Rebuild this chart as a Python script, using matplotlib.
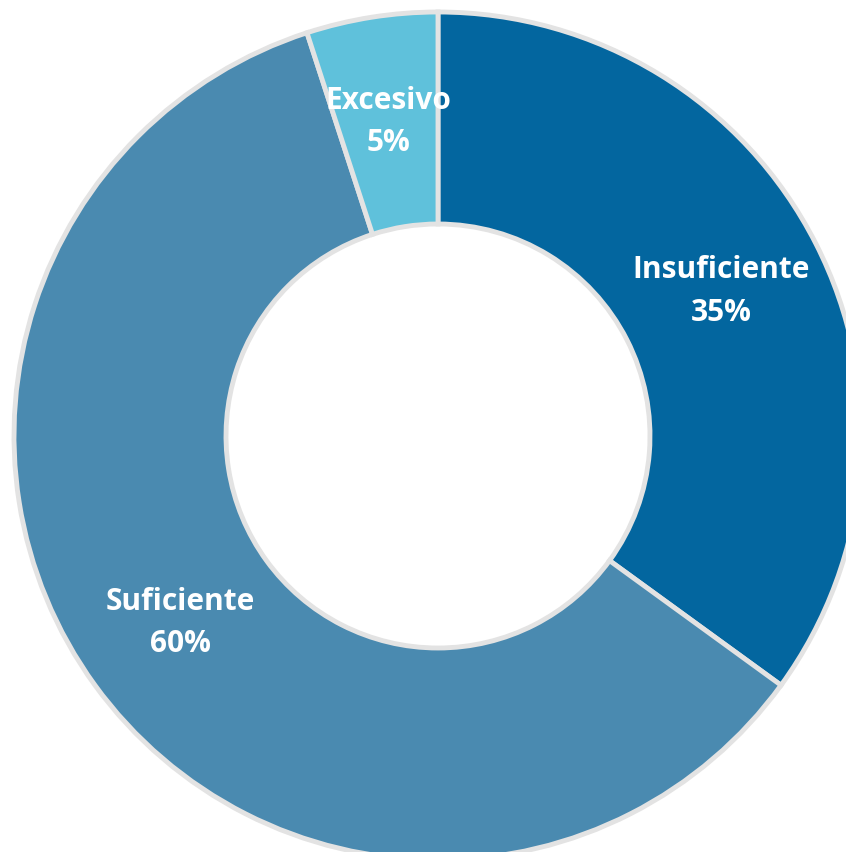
import numpy as np
import matplotlib
matplotlib.use("Agg")
import matplotlib.pyplot as plt

# data
categories = ["Insuficiente", "Suficiente", "Excesivo"]
shares = [35, 60, 5]
colors = ["#03669f", "#4a8ab0", "#5fc1db"]

W, H, DPI = 846, 852, 100
fig = plt.figure(figsize=(W / DPI, H / DPI), dpi=DPI)
ax = fig.add_axes([0, 0, 1, 1])

cx, cy, R = 438, H - 436, 424

wedges, _ = ax.pie(shares, colors=colors, startangle=90, counterclock=False,
                   radius=R, center=(cx, cy),
                   wedgeprops=dict(width=R * 0.5, edgecolor="#e3e3e3",
                                   linewidth=3.5))

for w, name, val in zip(wedges, categories, shares):
    ang = np.deg2rad((w.theta1 + w.theta2) / 2)
    r = R * 0.75
    x = cx + r * np.cos(ang)
    y = cy + r * np.sin(ang)
    ax.text(x, y, f"{name}\n{val}%", ha="center", va="center",
            color="white", fontsize=21.5, fontweight="bold",
            family=["Open Sans", "DejaVu Sans"], linespacing=1.55)

ax.set_xlim(0, W)
ax.set_ylim(0, H)
ax.set_aspect("equal")
ax.axis("off")

fig.savefig("out.png", dpi=DPI)
